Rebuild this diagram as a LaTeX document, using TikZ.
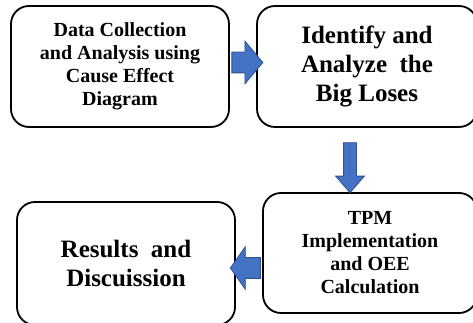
\documentclass[tikz,border=0pt]{standalone}
\usepackage{fontspec}
\setmainfont{Liberation Serif}
\usepackage{xcolor}
\definecolor{arrowblue}{HTML}{4472C4}
\definecolor{arrowedge}{HTML}{2F528F}
\usetikzlibrary{positioning,calc,shapes.arrows}

\begin{document}
\begin{tikzpicture}[x=1pt, y=1pt, box/.style = {draw, line width=1.8pt, rounded corners=18pt, align=center, font=\bfseries, minimum width=218pt, minimum height=121pt, inner sep=0pt}, small/.style={font=\bfseries\fontsize{20}{23}\selectfont}, big/.style={font=\bfseries\fontsize{25}{29}\selectfont}, blockarrow/.style={single arrow, draw=arrowedge, fill=arrowblue, line width=0.8pt, inner xsep=0pt, inner ysep=10pt, single arrow head extend=11pt}]

\useasboundingbox (0,0) rectangle (473,323);
\clip (0,0) rectangle (473,323);

\node[box, small] (collect) at (120,256.5) {Data Collection\\and Analysis using\\Cause Effect\\Diagram};
\node[box, big, minimum width=220pt] (identify) at (367,256.5) {Identify and\\Analyze~ the\\Big Loses};
\node[box, small, minimum width=214pt, minimum height=120pt] (tpm) at (370,70) {TPM\\Implementation\\and OEE\\Calculation};
\node[box, big, minimum height=123pt] (results) at (126,59.5) {Results~ and\\Discuission};

% block arrows between the steps
\node[blockarrow, minimum height=31pt, single arrow tip angle=100] (a1) at ($(collect.east)!0.5!(identify.west)+(0,4)$) {};
\node[blockarrow, minimum height=50pt, inner ysep=6pt, single arrow head extend=8pt, single arrow tip angle=82, rotate=-90] (a2) at (350,159) {};
\node[blockarrow, minimum height=30pt, single arrow tip angle=110, rotate=180] (a3) at ($(results.east)!0.5!(tpm.west)+(0,-9.75)$) {};
\end{tikzpicture}
\end{document}
